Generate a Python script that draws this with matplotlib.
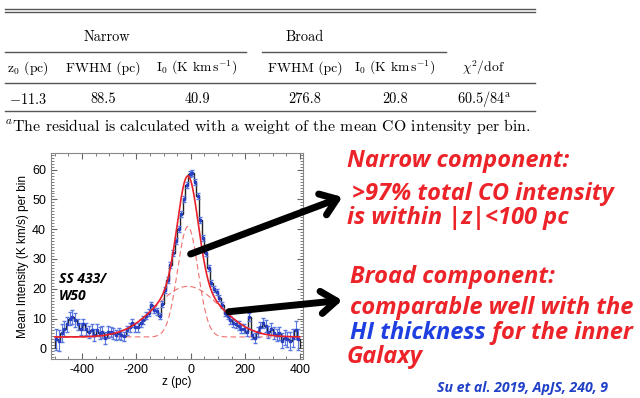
import matplotlib
matplotlib.use('Agg')
import matplotlib.pyplot as plt
import numpy as np
from matplotlib.patches import FancyArrowPatch
from matplotlib.ticker import MultipleLocator

plt.rcParams['mathtext.fontset'] = 'cm'
plt.rcParams['axes.unicode_minus'] = False

# fit parameters from the table
z0 = -11.3
fwhm_narrow = 88.5
i0_narrow = 40.9
fwhm_broad = 276.8
i0_broad = 20.8
base = 3.8          # baseline level
chi2_dof = "60.5/84"

# CO intensity per 10 pc bin
edges = np.arange(-500, 401, 10)
intensity = [3, 2.5, 5, 6.5, 8, 10, 10.5, 9.5, 8, 6.5,
             8, 6.5, 5.5, 6, 4.5, 6, 5, 5.5, 3.5, 5.5,
             5.5, 5, 4.5, 5, 4.5, 4, 6, 7, 8.5, 7,
             7, 8.5, 9.5, 11, 12, 14.5, 13, 12.5, 11, 15,
             19.5, 23, 28, 32, 36, 40, 45, 50, 55, 58.5,
             59, 56, 51, 43, 37, 32, 27, 22, 20, 19,
             17, 14.5, 12, 11, 9.5, 8.5, 8, 7.5, 6.5, 6.5,
             5.5, 10.5, 4.5, 3.5, 5.5, 7, 8.5, 7.5, 5.5, 6.5,
             5, 4.5, 5, 2.5, 3.5, 3, 2.5, 3.5, 6, 3]
errs = [3.5, 3.5, 3, 2.5, 2.5, 2.2, 2.2, 2.2, 2, 2,
        2, 2, 2, 2, 2, 2, 2, 2, 2, 2,
        1.8, 1.8, 1.8, 1.8, 1.8, 1.5, 1.5, 1.5, 1.5, 1.5,
        1.5, 1.5, 1.2, 1.2, 1.2, 1.2, 1.2, 1.2, 1, 1,
        1, 1, 1, 1, 1, 1, 1, 1, 1, 1,
        1, 1, 1, 1, 1, 1, 1, 1, 1, 1,
        1, 1, 1, 1.2, 1.2, 1.2, 1.2, 1.5, 1.5, 1.5,
        1.5, 1.5, 1.5, 1.8, 1.8, 1.8, 1.8, 2, 2, 2,
        2, 2, 2.2, 2.5, 2.5, 2.5, 3, 3, 3, 3.5]

fig = plt.figure(figsize=(6.4, 3.98), dpi=100)

def fx(x):
    return x / 640.0

def fy(y):
    return 1 - y / 398.0

# ---------------- table ----------------
lc = '#555555'
for yy in [8.5, 12]:
    fig.add_artist(plt.Line2D([fx(5), fx(535)], [fy(yy), fy(yy)], color=lc, lw=1.0))
fig.add_artist(plt.Line2D([fx(5), fx(246)], [fy(52), fy(52)], color=lc, lw=1.0))
fig.add_artist(plt.Line2D([fx(262), fx(446)], [fy(52), fy(52)], color=lc, lw=1.0))
fig.add_artist(plt.Line2D([fx(5), fx(535)], [fy(83), fy(83)], color=lc, lw=1.0))
fig.add_artist(plt.Line2D([fx(5), fx(535)], [fy(111), fy(111)], color=lc, lw=1.0))

tfs = 10.3
fig.text(fx(107), fy(37), 'Narrow', family='cmr10', fontsize=tfs, ha='center', va='center')
fig.text(fx(305), fy(37), 'Broad', family='cmr10', fontsize=tfs, ha='center', va='center')

headers = [r'z$_0$ (pc)', 'FWHM (pc)', r'I$_0$ (K km$\,$s$^{-1}$)',
           'FWHM (pc)', r'I$_0$ (K km$\,$s$^{-1}$)', r'$\chi^2$/dof']
col_x = [28, 103, 197, 305, 395, 484]
for x, h in zip(col_x, headers):
    fig.text(fx(x), fy(68), h, family='cmr10', fontsize=9.8, ha='center', va='center')

row = [r'$-$11.3', str(fwhm_narrow), str(i0_narrow), str(fwhm_broad),
       str(i0_broad), chi2_dof + r'$^{\mathrm{a}}$']
for x, v in zip(col_x, row):
    fig.text(fx(x), fy(99), v, family='cmr10', fontsize=tfs, ha='center', va='center')

fig.text(fx(5), fy(127), r'$^{a}$The residual is calculated with a weight of the mean CO intensity per bin.',
         family='cmr10', fontsize=11.4, ha='left', va='center')

# ---------------- plot ----------------
ax = fig.add_axes([fx(51), fy(359), fx(303) - fx(51), fy(153) - fy(359)])
centers = (edges[:-1] + edges[1:]) / 2

ax.stairs(intensity, edges, color='#222222', lw=1.0, zorder=3)
ax.errorbar(centers, intensity, yerr=errs, fmt='s', ms=2, color='#2a3fc0',
            ecolor='#5a78e0', elinewidth=0.8, capsize=1.5, zorder=4)

zz = np.linspace(-500, 400, 600)
sig_n = fwhm_narrow / 2.3548
sig_b = fwhm_broad / 2.3548
narrow = base + (i0_narrow - base) * np.exp(-0.5 * ((zz - z0) / sig_n) ** 2)
broad = base + (i0_broad - base) * np.exp(-0.5 * ((zz - z0) / sig_b) ** 2)
total = narrow + broad - base
ax.plot(zz, narrow, color='#f07070', lw=0.8, ls=(0, (5, 3)), zorder=2)
ax.plot(zz, broad, color='#f07070', lw=0.8, ls=(0, (5, 3)), zorder=2)
ax.plot(zz, total, color='#e8202a', lw=1.2, zorder=5)

ax.set_xlim(-514, 412)
ax.set_ylim(-3.6, 65.6)
ax.xaxis.set_major_locator(MultipleLocator(200))
ax.xaxis.set_minor_locator(MultipleLocator(50))
ax.yaxis.set_major_locator(MultipleLocator(10))
ax.yaxis.set_minor_locator(MultipleLocator(1))
ax.tick_params(which='both', direction='in', top=True, right=True, colors='#666666',
               labelcolor='black', labelsize=9)
ax.tick_params(which='major', length=4)
ax.tick_params(which='minor', length=2)
for s in ax.spines.values():
    s.set_color('#888888')
for lab in ax.get_xticklabels() + ax.get_yticklabels():
    lab.set_family('Liberation Sans')
ax.set_xlabel('z (pc)', family='Liberation Sans', fontsize=8.5, labelpad=0)
ax.set_ylabel('Mean Intensity (K km/s) per bin', family='Liberation Sans', fontsize=8.5, labelpad=2)

ax.text(0.03, 0.42, 'SS 433/\nW50', transform=ax.transAxes, fontsize=10,
        family='Open Sans', weight='bold', style='italic', ha='left', va='top', linespacing=1.25)

# ---------------- arrows ----------------
for (x0, y0, x1, y1) in [(188, 255, 345, 196), (226, 312, 345, 300)]:
    arr = FancyArrowPatch((fx(x0), fy(y0)), (fx(x1), fy(y1)), transform=fig.transFigure,
                          arrowstyle='->,head_length=0.55,head_width=0.4', mutation_scale=20,
                          lw=5, color='black', zorder=10)
    fig.add_artist(arr)

# ---------------- slide text ----------------
red = '#ec2328'
blue = '#1f3fe0'
kw = dict(family='Open Sans', weight='bold', style='italic', fontsize=17, va='center', ha='left')
fig.text(fx(347), fy(161), 'Narrow component:', color=red, **kw)
fig.text(fx(352), fy(194), '>97% total CO intensity', color=red, **kw)
fig.text(fx(347), fy(218), 'is within |z|<100 pc', color=red, **kw)
fig.text(fx(350), fy(277), 'Broad component:', color=red, **kw)
fig.text(fx(350), fy(308), 'comparable well with the', color=red, **kw)
t = fig.text(fx(350), fy(333), 'HI thickness', color=blue, **kw)
fig.canvas.draw()
bb = t.get_window_extent()
fig.text(bb.x1 / fig.bbox.width, fy(333), ' for the inner', color=red, **kw)
fig.text(fx(347), fy(357), 'Galaxy', color=red, **kw)
fig.text(fx(437), fy(388), 'Su et al. 2019, ApJS, 240, 9', color='#2040c8', family='Open Sans',
         weight='bold', style='italic', fontsize=10.2, va='center', ha='left')

fig.savefig('out.png', dpi=100)
